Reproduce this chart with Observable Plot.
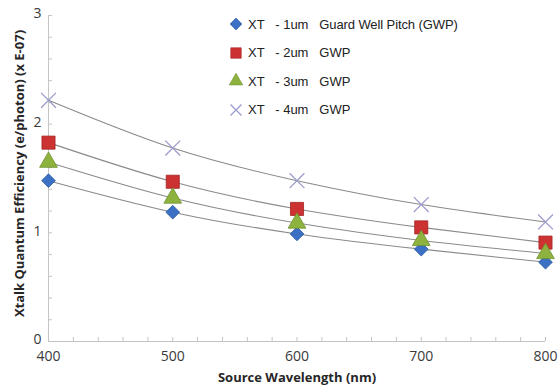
<!DOCTYPE html>
<html>
<head>
<meta charset="utf-8">
<script src="https://cdn.jsdelivr.net/npm/d3@7"></script>
<script src="https://cdn.jsdelivr.net/npm/@observablehq/plot@0.6"></script>
<style>
  html, body { margin: 0; padding: 0; background: #fff; }
  #wrap { position: relative; width: 559px; height: 387px; }
  #legend { position: absolute; left: 228px; top: 10px; font-family: "Liberation Sans", Arial, sans-serif; font-size: 13px; color: #222; }
  .row { position: absolute; left: 0; height: 20px; display: flex; align-items: center; white-space: pre; }
  .row svg { width: 16px; height: 16px; margin-right: 4px; }
  .small { font-size: 13px; letter-spacing: -0.1px; }
</style>
</head>
<body>
<div id="wrap"><div id="legend"></div></div>
<script>
// ---- data ----
const wavelengths = [400, 500, 600, 700, 800];
const seriesNames = ["XT - 1um", "XT - 2um", "XT - 3um", "XT - 4um"];
const seriesSuffix = ["Guard Well Pitch (GWP)", "GWP", "GWP", "GWP"];
const gwp1 = [1.48, 1.19, 0.99, 0.85, 0.73];
const gwp2 = [1.83, 1.47, 1.22, 1.05, 0.91];
const gwp3 = [1.65, 1.32, 1.09, 0.93, 0.81];
const gwp4 = [2.22, 1.78, 1.48, 1.26, 1.10];
const xTicks = [400, 500, 600, 700, 800];
const yTicks = [0, 1, 2, 3];
const xMinor = d3.range(400, 801, 20);
const yMinor = d3.range(0, 3.001, 0.2);
const yTitle = "Xtalk Quantum Efficiency (e/photon) (x E-07)";
const xTitle = "Source Wavelength (nm)";

// ---- styles ----
const symbols = ["diamond2", "square", "triangle", "times"];
const fills = ["#3b70c4", "#cc3232", "#8db23e", "none"];
const strokes = ["#2c5aa0", "#a52424", "#6f9230", "#9c9ccc"];
const radii = [6.2, 7.4, 6.6, 6.8];

const allSeries = [gwp1, gwp2, gwp3, gwp4];
const rows = [];
allSeries.forEach((vals, i) => {
  vals.forEach((v, j) => rows.push({ s: i, x: wavelengths[j], y: v }));
});

const font = "'Open Sans', 'Liberation Sans', sans-serif";

const marks = [
  Plot.ruleX([400], { stroke: "#c4c4c4" }),
  Plot.ruleY([0], { stroke: "#c4c4c4" }),
  Plot.axisX({ ticks: xMinor, tickSize: 4, dy: -4, text: null, stroke: "#c4c4c4", label: null }),
  Plot.axisY({ ticks: yMinor, tickSize: 4, dx: 4, text: null, stroke: "#c4c4c4", label: null }),
  Plot.axisX({ ticks: xTicks, tickSize: 0, tickPadding: 10, fontSize: 14, fill: "#3a3a3a", label: null, tickFormat: d => String(d) }),
  Plot.axisY({ ticks: yTicks, tickSize: 0, tickPadding: 7, dy: -1.5, fontSize: 14, fill: "#3a3a3a", label: null, tickFormat: d => String(d) }),
  Plot.text([yTitle], { frameAnchor: "left", textAnchor: "middle", rotate: -90, dx: -29, dy: -5, fontSize: 13, fontWeight: "bold", fill: "#262626", fontFamily: font }),
  Plot.text([xTitle], { frameAnchor: "bottom", textAnchor: "middle", lineAnchor: "middle", dy: 36, fontSize: 13, fontWeight: "bold", fill: "#262626", fontFamily: font })
];

allSeries.forEach((vals, i) => {
  const data = rows.filter(r => r.s === i);
  marks.push(Plot.line(data, { x: "x", y: "y", curve: "natural", stroke: "#8a8a8a", strokeWidth: 1.1 }));
});
allSeries.forEach((vals, i) => {
  const data = rows.filter(r => r.s === i);
  marks.push(Plot.dot(data, {
    x: "x", y: "y", symbol: () => symbols[i], r: radii[i],
    fill: fills[i], stroke: strokes[i], strokeWidth: i === 3 ? 1.3 : 0.8
  }));
});

const chart = Plot.plot({
  width: 559, height: 387,
  marginLeft: 48, marginRight: 14, marginTop: 15, marginBottom: 46,
  x: { domain: [400, 800] },
  y: { domain: [0, 3] },
  style: { fontFamily: font, background: "#fff", overflow: "visible" },
  marks
});
document.getElementById("wrap").prepend(chart);

// ---- legend (HTML overlay) ----
const legend = document.getElementById("legend");
const ly = d3.scaleLinear().domain([0, 3]).range([4, 89.5]);
seriesNames.forEach((name, i) => {
  const row = document.createElement("div");
  row.className = "row";
  row.style.top = ly(i) + "px";
  const sym = d3.symbol(d3[{diamond2:"symbolSquare", square:"symbolSquare", triangle:"symbolTriangle", times:"symbolTimes"}[symbols[i]]], [70, 110, 80, 80][i])();
  const rot = i === 0 ? ' transform="rotate(45)"' : '';
  row.innerHTML = `<svg viewBox="-8 -8 16 16"><path d="${sym}"${rot} fill="${fills[i]}" stroke="${strokes[i]}" stroke-width="${i===3?1.3:0.6}"/></svg>` +
    `<span>XT   - ${name.split(" - ")[1]}   </span><span class="${i===0?'small':''}">${seriesSuffix[i]}</span>`;
  legend.appendChild(row);
});
</script>
</body>
</html>
